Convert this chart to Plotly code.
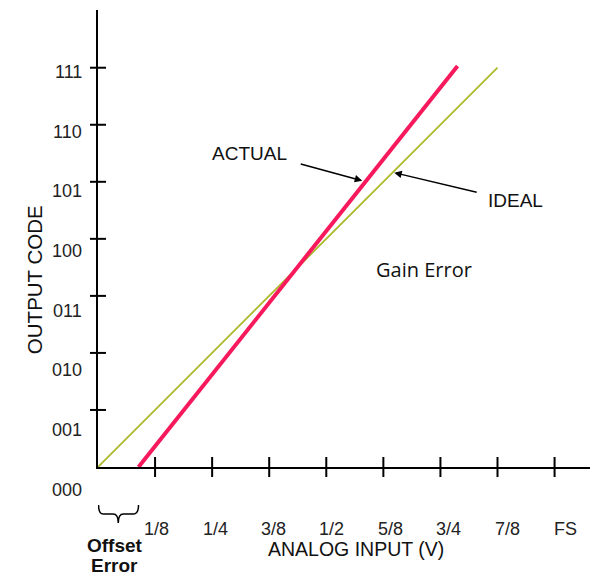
import plotly.graph_objects as go

# ---- data ----
x_tick_labels = ["1/8", "1/4", "3/8", "1/2", "5/8", "3/4", "7/8", "FS"]
x_tick_vals = [1, 2, 3, 4, 5, 6, 7, 8]          # input in eighths of full scale
y_tick_labels = ["000", "001", "010", "011", "100", "101", "110", "111"]
y_tick_vals = [0, 1, 2, 3, 4, 5, 6, 7]           # output codes

ideal_x = [0, 7]
ideal_y = [0, 7]
actual_x = [0.71, 6.30]
actual_y = [0, 7.03]

# ---- style constants ----
FONT = "Liberation Sans, Arial, sans-serif"
X_RANGE = [0, 8.761]
Y_RANGE = [0, 8.012]
X_LABEL_PITCH = 1.025
Y_LABEL_PITCH = 1.046
Y_LABEL_OFFSET = -0.398

fig = go.Figure()
fig.add_trace(go.Scatter(x=ideal_x, y=ideal_y, mode="lines",
                         line=dict(color="#aab92b", width=1.8),
                         hoverinfo="skip", showlegend=False))
fig.add_trace(go.Scatter(x=actual_x, y=actual_y, mode="lines",
                         line=dict(color="#f7195c", width=4),
                         hoverinfo="skip", showlegend=False))

shapes = []
for v in x_tick_vals:
    shapes.append(dict(type="line", xref="x", yref="paper", x0=v, x1=v,
                       ysizemode="pixel", yanchor=0, y0=-10, y1=10,
                       line=dict(color="black", width=2)))
for v in y_tick_vals[1:]:
    shapes.append(dict(type="line", xref="paper", yref="y", y0=v, y1=v,
                       xsizemode="pixel", xanchor=0, x0=-8, x1=8,
                       line=dict(color="black", width=2)))
# offset-error brace spanning from the origin to the actual line's start
e = actual_x[0]
c = e / 2
brace = (f"M 0.01,-38 Q 0.01,-47 0.09,-47 L {c-0.09},-47 Q {c},-47 {c},-56 "
         f"Q {c},-47 {c+0.09},-47 L {e-0.09},-47 Q {e},-47 {e},-38")
shapes.append(dict(type="path", xref="x", yref="paper", ysizemode="pixel",
                   yanchor=0, path=brace, line=dict(color="black", width=1.5)))

ann = []
for v, t in zip(x_tick_vals, x_tick_labels):
    ann.append(dict(x=v * X_LABEL_PITCH, y=0, xref="x", yref="paper", text=t,
                    showarrow=False, yshift=-62, yanchor="middle",
                    font=dict(family=FONT, size=18, color="#222")))
for v, t in zip(y_tick_vals, y_tick_labels):
    ann.append(dict(x=0, y=(v * Y_LABEL_PITCH + Y_LABEL_OFFSET) / Y_RANGE[1],
                    xref="paper", yref="paper",
                    text=t, showarrow=False, xanchor="right", xshift=-14,
                    yanchor="middle", font=dict(family=FONT, size=18, color="#222")))

# axis titles
ann.append(dict(x=-0.154, y=0.41, xref="paper", yref="paper", text="OUTPUT CODE",
                textangle=-90, showarrow=False,
                font=dict(family=FONT, size=20.5, color="#111")))
ann.append(dict(x=0.515, y=-0.207, xref="paper", yref="paper", text="ANALOG INPUT (V)",
                showarrow=False, font=dict(family=FONT, size=19.5, color="#111")))

# callouts
ann.append(dict(x=2.65, y=5.50, xref="x", yref="y", text="ACTUAL", showarrow=False,
                font=dict(family=FONT, size=19, color="#111")))
ann.append(dict(x=4.63, y=5.02, xref="x", yref="y", text="", showarrow=True,
                ax=-63, ay=-17, arrowhead=2, arrowsize=1, arrowwidth=1.5,
                arrowcolor="black"))
ann.append(dict(x=7.31, y=4.67, xref="x", yref="y", text="IDEAL", showarrow=False,
                font=dict(family=FONT, size=19, color="#111")))
ann.append(dict(x=5.19, y=5.16, xref="x", yref="y", text="", showarrow=True,
                ax=84, ay=20, arrowhead=2, arrowsize=1, arrowwidth=1.5,
                arrowcolor="black"))
ann.append(dict(x=5.72, y=3.46, xref="x", yref="y", text="Gain Error", showarrow=False,
                font=dict(family="Open Sans, sans-serif", size=20, color="#111")))
ann.append(dict(x=c * 0.82, y=0, xref="x", yref="paper", text="<b>Offset</b>",
                showarrow=False, yshift=-78, yanchor="middle",
                font=dict(family=FONT, size=19, color="#111")))
ann.append(dict(x=c * 0.82, y=0, xref="x", yref="paper", text="<b>Error</b>",
                showarrow=False, yshift=-98, yanchor="middle",
                font=dict(family=FONT, size=19, color="#111")))

# page body has an 8px margin, so the figure is 8px smaller on each leading side
fig.update_layout(
    width=590, height=569,
    margin=dict(l=90, r=0, t=2, b=110, pad=0),
    plot_bgcolor="white", paper_bgcolor="white",
    shapes=shapes, annotations=ann, showlegend=False,
)
fig.update_xaxes(range=X_RANGE, showgrid=False, zeroline=False, showline=True,
                 linecolor="black", linewidth=2, ticks="", showticklabels=False,
                 tickvals=x_tick_vals)
fig.update_yaxes(range=Y_RANGE, showgrid=False, zeroline=False, showline=True,
                 linecolor="black", linewidth=2, ticks="", showticklabels=False,
                 tickvals=y_tick_vals)

fig.write_html("out.html", config=dict(displayModeBar=False))
